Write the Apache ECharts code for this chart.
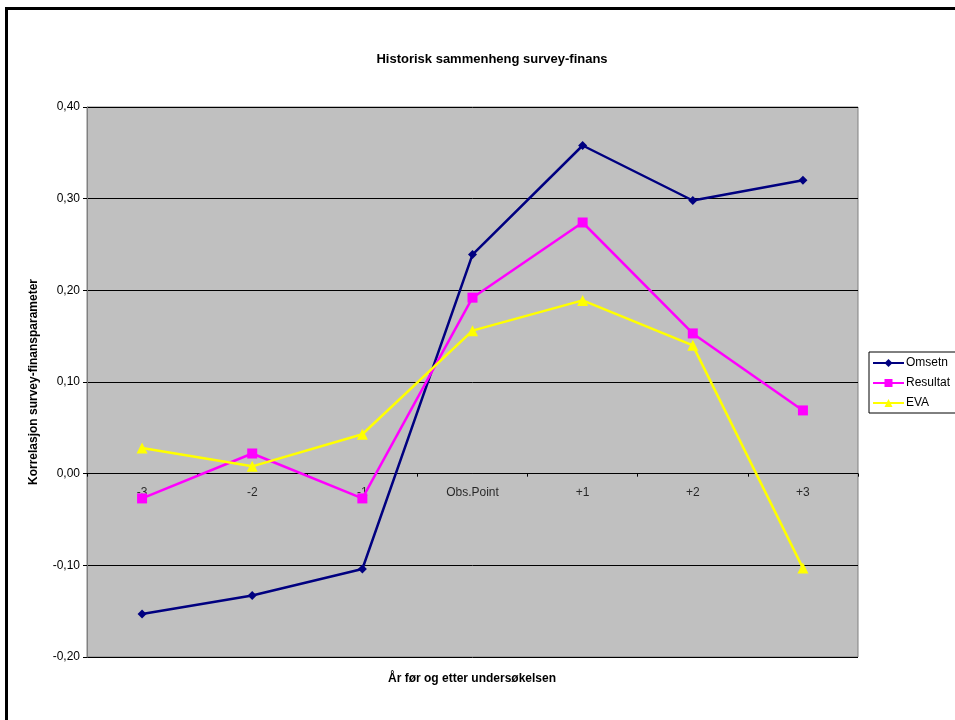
<!DOCTYPE html>
<html>
<head>
<meta charset="utf-8">
<script src="https://cdn.jsdelivr.net/npm/echarts@6/dist/echarts.min.js"></script>
<style>
  html, body { margin: 0; padding: 0; background: #fff; }
  #chart { width: 955px; height: 720px; }
</style>
</head>
<body>
<div id="chart"></div>
<script>
// Years before/after the survey
const categories = ['-3', '-2', '-1', 'Obs.Point', '+1', '+2', '+3'];

// Correlation survey vs. financial parameter
const omsetn   = [-0.153, -0.133, -0.104, 0.239, 0.358, 0.298, 0.320];
const resultat = [-0.027,  0.022, -0.027, 0.192, 0.274, 0.153, 0.069];
const eva      = [ 0.028,  0.008,  0.043, 0.156, 0.189, 0.140, -0.103];

const font = 'Arial, "Liberation Sans", sans-serif';

const chart = echarts.init(document.getElementById('chart'));

function lineSeries(name, data, color, symbol, size) {
  return {
    name: name,
    type: 'line',
    data: data,
    symbol: symbol,
    symbolSize: size,
    color: color,
    lineStyle: { color: color, width: 2.5 },
    itemStyle: { color: color },
    emphasis: { disabled: true },
    z: 3
  };
}

chart.setOption({
  animation: false,
  backgroundColor: '#ffffff',
  textStyle: { fontFamily: font },
  title: {
    text: 'Historisk sammenheng survey-finans',
    left: 487,
    top: 48,
    textAlign: 'center',
    textStyle: { fontFamily: font, fontSize: 13, fontWeight: 'bold', color: '#000' }
  },
  graphic: [
    {
      type: 'rect',
      shape: { x: 6.5, y: 8.5, width: 1200, height: 1000 },
      style: { fill: 'none', stroke: '#000', lineWidth: 3 },
      silent: true
    },
    {
      type: 'text',
      style: {
        text: 'År før og etter undersøkelsen',
        x: 472, y: 679,
        align: 'center', verticalAlign: 'middle',
        font: 'bold 12px ' + font,
        fill: '#000'
      },
      silent: true
    }
  ],
  legend: {
    orient: 'vertical',
    left: 869,
    top: 352,
    padding: [4, 8, 3, 3],
    itemGap: 6,
    itemWidth: 31,
    itemHeight: 10,
    borderColor: '#000',
    borderWidth: 1,
    backgroundColor: '#fff',
    textStyle: { fontFamily: font, fontSize: 12, color: '#000', lineHeight: 14, padding: [0, 0, 0, -3] },
    data: ['Omsetn', 'Resultat', 'EVA']
  },
  grid: {
    left: 87,
    right: 97,
    top: 107,
    bottom: 63,
    show: true,
    backgroundColor: '#C0C0C0',
    borderColor: '#808080',
    borderWidth: 1
  },
  xAxis: {
    type: 'category',
    data: categories,
    boundaryGap: true,
    axisLine: { onZero: true, lineStyle: { color: '#000', width: 1 } },
    axisTick: { show: true, inside: false, length: 3, lineStyle: { color: '#000' } },
    axisLabel: { show: false },
    splitLine: { show: false }
  },
  yAxis: {
    type: 'value',
    min: -0.2,
    max: 0.4,
    interval: 0.1,
    name: 'Korrelasjon survey-finansparameter',
    nameLocation: 'middle',
    nameGap: 47,
    nameTextStyle: { fontFamily: font, fontSize: 12, fontWeight: 'bold', color: '#000' },
    axisLine: { show: true, lineStyle: { color: '#808080', width: 1 } },
    axisTick: { show: true, length: 4, lineStyle: { color: '#000' } },
    axisLabel: {
      margin: 7,
      fontFamily: font,
      fontSize: 12,
      color: '#000',
      formatter: v => v.toFixed(2).replace('.', ',')
    },
    splitLine: { show: true, lineStyle: { color: '#000', width: 1 } }
  },
  series: [
    // Category labels sitting just under the zero line
    {
      type: 'scatter',
      data: categories.map(c => [c, 0]),
      symbolSize: 0,
      silent: true,
      z: 1,
      label: {
        show: true,
        position: 'bottom',
        distance: 13,
        formatter: p => p.data[0],
        fontFamily: font,
        fontSize: 12,
        color: '#000'
      },
      tooltip: { show: false }
    },
    lineSeries('Omsetn', omsetn, '#000080', 'diamond', 9),
    lineSeries('Resultat', resultat, '#FF00FF', 'rect', 10),
    lineSeries('EVA', eva, '#FFFF00', 'triangle', 11)
  ]
});
</script>
</body>
</html>
